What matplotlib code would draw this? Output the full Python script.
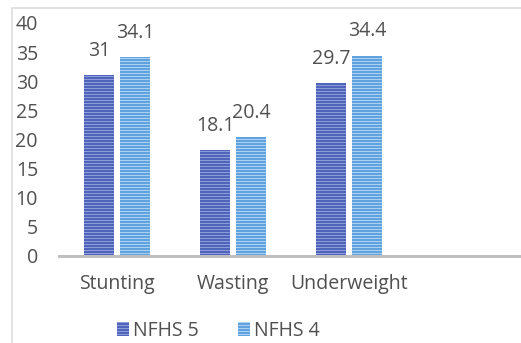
import matplotlib
matplotlib.use("Agg")
import matplotlib.pyplot as plt
from matplotlib.patches import Rectangle
import numpy as np

# Data
categories = ["Stunting", "Wasting", "Underweight", ""]
nfhs5 = [31, 18.1, 29.7]
nfhs4 = [34.1, 20.4, 34.4]
series_names = ["NFHS 5", "NFHS 4"]
y_ticks = [0, 5, 10, 15, 20, 25, 30, 35, 40]

DPI = 108
W, H = 521, 343
plt.rcParams["font.family"] = ["Open Sans", "DejaVu Sans"]
plt.rcParams["hatch.linewidth"] = 0.75
text_color = "#505050"
FS = 13

fig = plt.figure(figsize=(W / DPI, H / DPI), dpi=DPI)
fig.patch.set_facecolor("white")

# outer chart frame (only top/left visible, rest runs off the canvas)
fig.add_artist(Rectangle((12 / W, -0.2), 1.2, 1.2 - 7.5 / H,
                         transform=fig.transFigure, fill=False,
                         edgecolor="#d9d9d9", linewidth=1.0))

ax = fig.add_axes([59 / W, 1 - 255.5 / H, 464 / W, (255.5 - 23) / H])
ax.set_facecolor("none")

x = np.arange(len(nfhs5))
width = 0.259
offset = 0.155
b5 = ax.bar(x - offset, nfhs5, width, color="#4d62b8", edgecolor="#8c9cda",
            linewidth=0, hatch="------", label=series_names[0])
b4 = ax.bar(x + offset, nfhs4, width, color="#5b9fdd", edgecolor="#acd0f2",
            linewidth=0, hatch="------", label=series_names[1])

for bars in (b5, b4):
    ax.bar_label(bars, fmt="{:g}", padding=9.5, fontsize=FS, color=text_color)

ax.set_xlim(-0.5, len(categories) - 0.5)
ax.set_ylim(0, 40)
ax.set_xticks(range(len(categories)))
ax.set_xticklabels(categories)
ax.set_yticks(y_ticks)

for side in ("top", "right", "left"):
    ax.spines[side].set_visible(False)
ax.spines["bottom"].set_color("#bfbfbf")
ax.spines["bottom"].set_linewidth(2.0)
ax.spines["bottom"].set_clip_on(False)

ax.tick_params(axis="y", length=0, pad=14, labelsize=FS, labelcolor=text_color)
ax.tick_params(axis="x", length=0, pad=12, labelsize=FS, labelcolor=text_color)

fig.legend(handles=[b5, b4], labels=series_names, loc="center left",
           bbox_to_anchor=(117 / W, 1 - 331 / H), bbox_transform=fig.transFigure,
           ncol=2, frameon=False, fontsize=FS, labelcolor=text_color,
           handlelength=0.62, handleheight=0.72, handletextpad=0.2,
           columnspacing=2.0, borderpad=0, borderaxespad=0)

fig.savefig("out.png", dpi=DPI)
